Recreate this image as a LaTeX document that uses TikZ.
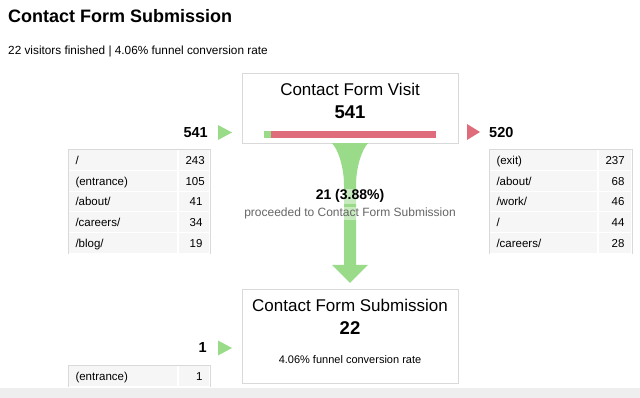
\documentclass[tikz,border=0pt]{standalone}
\usepackage{fontspec}
\setmainfont{Liberation Sans}
\usetikzlibrary{positioning,calc}

\definecolor{funnelgreen}{HTML}{9ADB8A}
\definecolor{exitred}{HTML}{DF6C7B}
\definecolor{boxline}{HTML}{D9D9D9}
\definecolor{cellfill}{HTML}{F6F6F6}
\definecolor{footgray}{HTML}{EEEEEE}
\definecolor{notegray}{HTML}{666666}

\begin{document}
\begin{tikzpicture}[x=1pt,y=-1pt]
\tikzset{stagebox/.style={draw=boxline, fill=white, minimum width=216pt, inner sep=0pt}}
\tikzset{pagecell/.style={fill=cellfill, draw=white, line width=1pt, anchor=north west,
  minimum height=20.8pt, inner xsep=7pt, inner ysep=0pt, text width=#1, align=left,
  text height=10pt, text depth=1pt, font=\fontsize{11.5}{13}\selectfont}}
\tikzset{hitcell/.style={pagecell=#1, align=right}}
\tikzset{count/.style={font=\bfseries\fontsize{14.5}{16}\selectfont, inner sep=0pt}}

\useasboundingbox (0,0) rectangle (640,398);
\fill[footgray] (0,388) rectangle (640,398);

% heading
\node[anchor=base west, inner sep=0pt, font=\bfseries\fontsize{18}{20}\selectfont] (title) at (8,23) {Contact Form Submission};
\node[anchor=base west, inner sep=0pt, font=\fontsize{11.8}{13}\selectfont] (summary) at (8,55) {22 visitors finished | 4.06\% funnel conversion rate};

% funnel steps
\node[stagebox, minimum height=70pt] (visit) at (350,108) {};
\node[anchor=base, inner sep=0pt, font=\fontsize{17}{19}\selectfont] (visitname) at (350,96) {Contact Form Visit};
\node[anchor=base, inner sep=0pt, font=\bfseries\fontsize{18.5}{20}\selectfont] (visitnum) at (350,118.5) {541};
\fill[exitred] (264,131) rectangle (436,138);
\fill[funnelgreen] (264,131) rectangle (271,138);

\node[stagebox, minimum height=94pt] (submit) at (350,336) {};
\node[anchor=base, inner sep=0pt, font=\fontsize{17}{19}\selectfont] (submitname) at (350,311.5) {Contact Form Submission};
\node[anchor=base, inner sep=0pt, font=\bfseries\fontsize{18.5}{20}\selectfont] (submitnum) at (350,334) {22};
\node[anchor=base, inner sep=0pt, font=\fontsize{11}{12}\selectfont] (submitrate) at (350,363) {4.06\% funnel conversion rate};

% funnel between the steps
\fill[funnelgreen] ($(visit.south)+(-18,0)$) .. controls +(6,6) and +(0,-18) .. ($(visit.south)+(-6,42)$)
  -- ($(submit.north)+(-6,-24)$) -- ($(submit.north)+(-18,-24)$) -- ($(submit.north)+(0,-6)$)
  -- ($(submit.north)+(18,-24)$) -- ($(submit.north)+(6,-24)$) -- ($(visit.south)+(6,42)$)
  .. controls +(0,-18) and +(-6,6) .. ($(visit.south)+(18,0)$) -- cycle;
\node[fill=white, fill opacity=0.45, text opacity=1, inner sep=1pt, anchor=base, font=\bfseries\fontsize{14}{16}\selectfont] (proceednum) at (350,200) {21 (3.88\%)};
\node[fill=white, fill opacity=0.45, text opacity=1, inner sep=1pt, anchor=base, text=notegray, font=\fontsize{12}{13}\selectfont] (proceedtext) at (350,216.5) {proceeded to Contact Form Submission};

% entrances and exits
\coordinate (inmark) at (218,125);
\fill[funnelgreen] (inmark) -- ++(14,7.5) -- ++(-14,7.5) -- cycle;
\node[count, anchor=base east] (innum) at (208,137.5) {541};
\coordinate (outmark) at (467,124);
\fill[exitred] (outmark) -- ++(13,8) -- ++(-13,8) -- cycle;
\node[count, anchor=base west] (outnum) at (489,137.5) {520};
\coordinate (lastmark) at (218,340.5);
\fill[funnelgreen] (lastmark) -- ++(14,7.5) -- ++(-14,7.5) -- cycle;
\node[count, anchor=base east] (lastnum) at (207,352) {1};

% tables
\foreach \pg/\n [count=\i from 0] in {{/}/243, {(entrance)}/105, {/about/}/41, {/careers/}/34, {/blog/}/19} {
  \node[pagecell=95pt] (inpg\i) at (68,149+20.8*\i) {\pg};
  \node[hitcell=17pt, right=0pt of inpg\i] (inhit\i) {\n};
}
\draw[boxline] (inpg4.south west) -- (inpg0.north west) -- (inhit0.north east) -- (inhit4.south east);

\foreach \pg/\n [count=\i from 0] in {{(exit)}/237, {/about/}/68, {/work/}/46, {/}/44, {/careers/}/28} {
  \node[pagecell=94pt] (outpg\i) at (489,149+20.8*\i) {\pg};
  \node[hitcell=19pt, right=0pt of outpg\i] (outhit\i) {\n};
}
\draw[boxline] (outpg4.south west) -- (outpg0.north west) -- (outhit0.north east) -- (outhit4.south east);

\node[pagecell=95pt] (lastpg) at (68,365) {(entrance)};
\node[hitcell=17pt, right=0pt of lastpg] (lasthit) {1};
\draw[boxline] (lastpg.south west) -- (lastpg.north west) -- (lasthit.north east) -- (lasthit.south east);
\end{tikzpicture}
\end{document}
